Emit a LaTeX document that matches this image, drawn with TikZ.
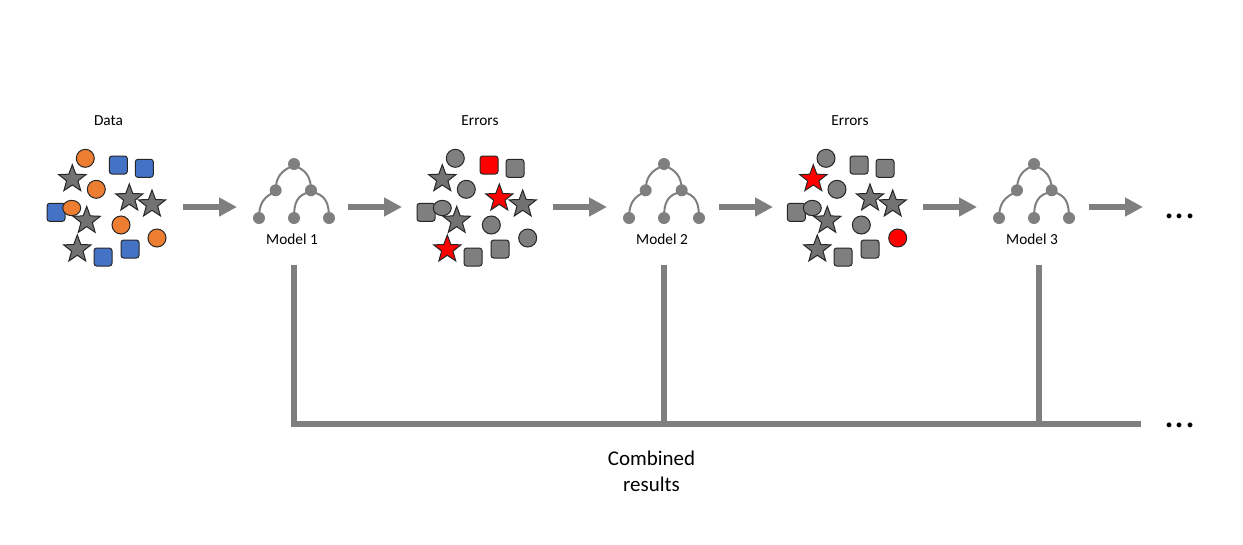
\documentclass[tikz,border=0pt]{standalone}
\usepackage{fontspec}
\setmainfont{Carlito}
\usetikzlibrary{shapes.geometric,arrows.meta}
\definecolor{dgray}{RGB}{127,127,127}
\definecolor{sorange}{RGB}{237,125,49}
\definecolor{sblue}{RGB}{68,114,196}
\definecolor{sred}{RGB}{255,0,0}
\tikzset{
 x=0.75pt,y=-0.75pt,
 item/.style={draw=black!85,line width=0.75pt,inner sep=0pt,outer sep=0pt},
 dot/.style={item,circle,minimum size=13.5pt},
 flat/.style={item,ellipse,minimum width=13.5pt,minimum height=11.5pt},
 sq/.style={item,rectangle,rounded corners=2pt,minimum size=13.5pt},
 org/.style={fill=sorange},
 blu/.style={fill=sblue},
 gry/.style={fill=dgray},
 redd/.style={fill=sred},
 sg/.style={item,star,star points=5,star point ratio=2.4,minimum size=21.5pt,fill=dgray!90!black},
 sr/.style={item,star,star points=5,star point ratio=2.4,minimum size=21.5pt,fill=sred},
 tnode/.style={circle,fill=dgray,inner sep=0pt,minimum size=9pt},
 tedge/.style={draw=dgray,line width=1.5pt},
 flow/.style={draw=dgray,line width=4.5pt,-{Triangle[length=13.5pt,width=13.5pt]}},
 bar/.style={draw=dgray,line width=4.5pt},
 lab/.style={font=\fontsize{11.5}{13}\selectfont,inner sep=0pt,text=black},
 big/.style={font=\fontsize{15.7}{19.5}\selectfont,inner sep=0pt,align=center,text=black},
 more/.style={font=\fontsize{30}{30}\selectfont,inner sep=0pt,text=black},
}
\newcommand{\mktree}[7]{% prefix top ml mr ll lm lr
 \node[tnode] (#1t) at (#2,164) {};
 \node[tnode] (#1a) at (#3,190.3) {};
 \node[tnode] (#1b) at (#4,190.3) {};
 \node[tnode] (#1l) at (#5,218) {};
 \node[tnode] (#1m) at (#6,218) {};
 \node[tnode] (#1r) at (#7,218) {};
 \draw[tedge] (#1t.center) ++(0,1.5) to[out=200,in=90,looseness=1.1] (#1a.center);
 \draw[tedge] (#1t.center) ++(0,1.5) to[out=-20,in=90,looseness=1.1] (#1b.center);
 \draw[tedge] (#1a.center) ++(0,1.5) to[out=200,in=90,looseness=1.1] (#1l.center);
 \draw[tedge] (#1b.center) ++(0,1.5) to[out=190,in=90,looseness=1.2] (#1m.center);
 \draw[tedge] (#1b.center) ++(0,1.5) to[out=-10,in=90,looseness=1.2] (#1r.center);
}
\begin{document}
\begin{tikzpicture}
\useasboundingbox (0,0) rectangle (1243,544);
% Data
\node[lab] (tdata) at (108.5,121) {Data};
\node[dot,org] (d1) at (85.3,158.3) {};
\node[dot,org] (d2) at (96.3,189.3) {};
\node[dot,org] (d4) at (121,225) {};
\node[dot,org] (d5) at (157,238) {};
\node[sq,blu] (d6) at (118.3,165) {};
\node[sq,blu] (d7) at (144.3,168.3) {};
\node[sq,blu] (d8) at (56,212.3) {};
\node[sq,blu] (d9) at (103,257) {};
\node[sq,blu] (d10) at (130,249) {};
\node[flat,org] (d3) at (71.7,208) {};
\node[sg] (d11) at (72.3,179) {};
\node[sg] (d12) at (129.3,198.3) {};
\node[sg] (d13) at (152,204.3) {};
\node[sg] (d14) at (86.7,220.7) {};
\node[sg] (d15) at (77.3,249.3) {};
% Errors 1
\node[lab] (terr1) at (480,121) {Errors};
\node[dot,gry] (e1) at (455.3,158.3) {};
\node[dot,gry] (e2) at (466.3,189.3) {};
\node[dot,gry] (e4) at (491.3,225) {};
\node[dot,gry] (e5) at (527.7,238) {};
\node[sq,redd] (e6) at (489,165) {};
\node[sq,gry] (e7) at (515,168.3) {};
\node[sq,gry] (e8) at (426,212.3) {};
\node[sq,gry] (e9) at (473,257) {};
\node[sq,gry] (e10) at (500,249) {};
\node[flat,gry] (e3) at (442.3,208) {};
\node[sg] (e11) at (442.3,179) {};
\node[sr] (e12) at (499.3,198.3) {};
\node[sg] (e13) at (522.7,204.3) {};
\node[sg] (e14) at (456.7,220.7) {};
\node[sr] (e15) at (447.3,249.3) {};
% Errors 2
\node[lab] (terr2) at (850,121) {Errors};
\node[dot,gry] (f1) at (826,158.3) {};
\node[dot,gry] (f2) at (837,189.3) {};
\node[dot,gry] (f4) at (861.3,225) {};
\node[dot,redd] (f5) at (897.7,238) {};
\node[sq,gry] (f6) at (859,165) {};
\node[sq,gry] (f7) at (885,168.3) {};
\node[sq,gry] (f8) at (796.3,212.3) {};
\node[sq,gry] (f9) at (843,257) {};
\node[sq,gry] (f10) at (870,249) {};
\node[flat,gry] (f3) at (812.3,208) {};
\node[sr] (f11) at (813.3,179) {};
\node[sg] (f12) at (870,198.3) {};
\node[sg] (f13) at (892.7,204.3) {};
\node[sg] (f14) at (827.3,220.7) {};
\node[sg] (f15) at (817.3,249.3) {};
% Trees
\mktree{p}{294}{275.7}{311}{259}{294}{329}
\mktree{q}{664}{645.7}{681.7}{629}{664}{699}
\mktree{r}{1034}{1017}{1051.7}{999}{1034}{1069}
\node[lab] (m1) at (292,239) {Model 1};
\node[lab] (m2) at (662,239) {Model 2};
\node[lab] (m3) at (1032,239) {Model 3};
% Flow arrows
\coordinate (a1s) at (183,207); \coordinate (a1e) at (237,207);
\coordinate (a2s) at (348,207); \coordinate (a2e) at (402,207);
\coordinate (a3s) at (553,207); \coordinate (a3e) at (607,207);
\coordinate (a4s) at (719,207); \coordinate (a4e) at (773,207);
\coordinate (a5s) at (923,207); \coordinate (a5e) at (977,207);
\coordinate (a6s) at (1089,207); \coordinate (a6e) at (1143,207);
\foreach \n in {1,...,6} \draw[flow] (a\n s) -- (a\n e);
\node[more] (dots1) at (1180,216) {...};
% Combined bars
\coordinate (j1) at (294,424);
\coordinate (j2) at (664,424);
\coordinate (j3) at (1039,424);
\coordinate (jend) at (1141,424);
\coordinate (b1) at (294,265);
\coordinate (b2) at (664,265);
\coordinate (b3) at (1039,265);
\draw[bar] (b1) -- (j1);
\draw[bar] (b2) -- (j2);
\draw[bar] (b3) -- (j3);
\draw[bar] (291,424) -- (jend);
\node[more] (dots2) at (1180,425) {...};
\node[big] (comb) at (651.5,471.5) {Combined\\results};
\end{tikzpicture}
\end{document}
